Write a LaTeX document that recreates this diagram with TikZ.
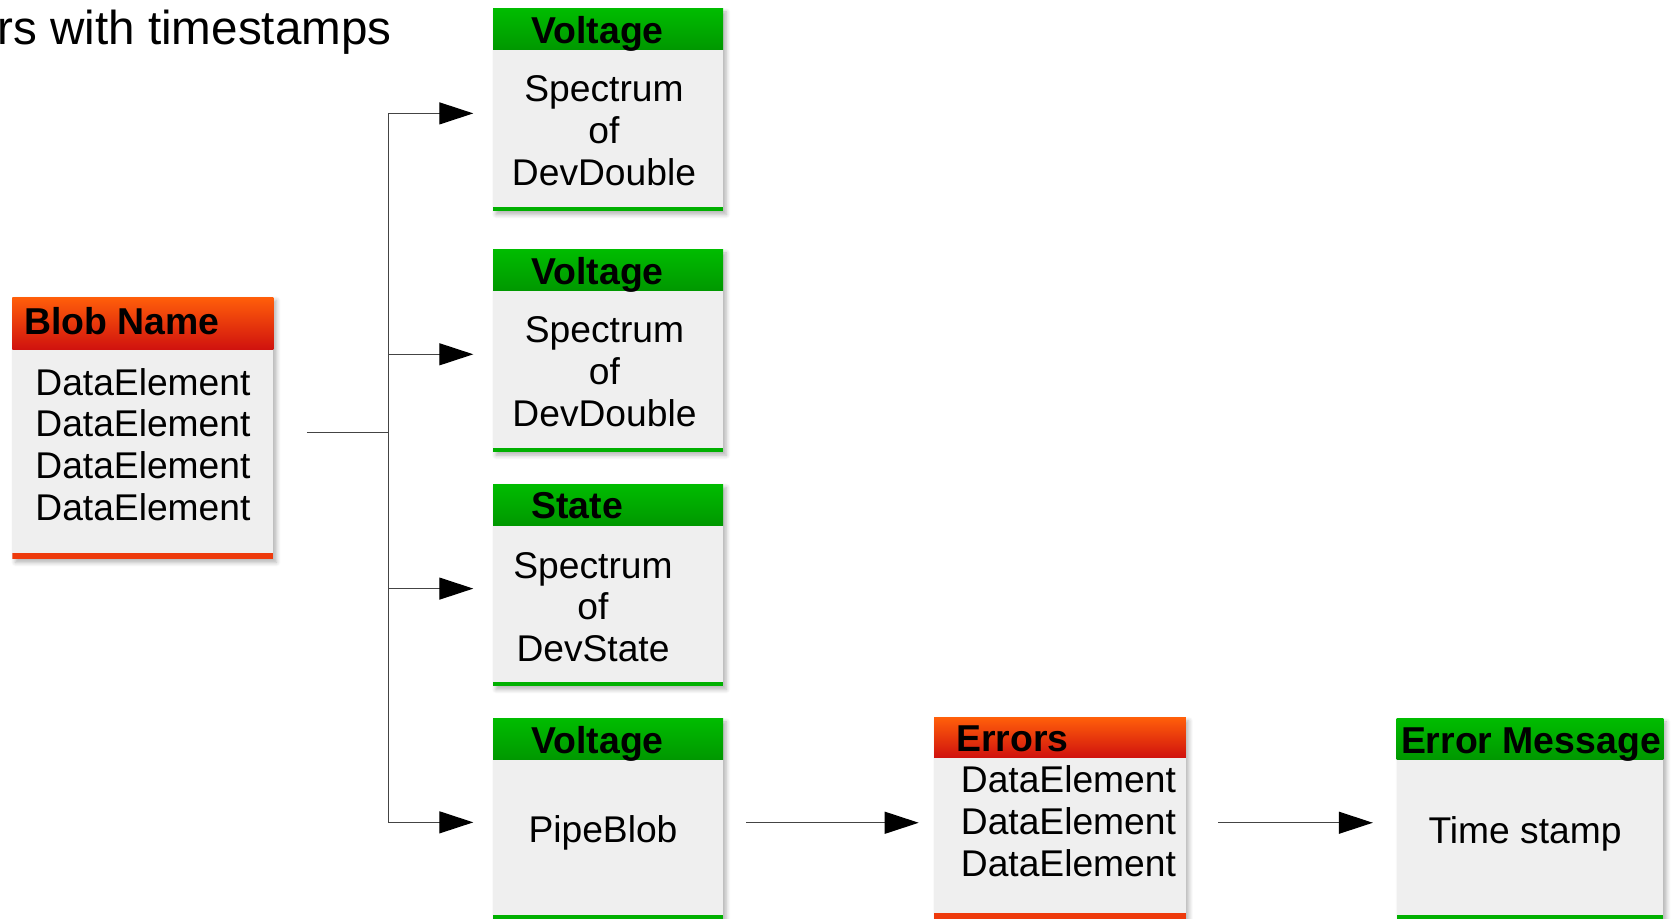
\documentclass[tikz,border=0pt]{standalone}
\usepackage{fontspec}
\setmainfont{Liberation Sans}
\usetikzlibrary{arrows.meta,shadows.blur}
\definecolor{boxgray}{HTML}{EFEFEF}
\definecolor{greentop}{HTML}{00BC00}
\definecolor{greenbot}{HTML}{009800}
\definecolor{greenband}{HTML}{00B000}
\definecolor{redtop}{HTML}{FF5E0A}
\definecolor{redbot}{HTML}{D0120E}
\definecolor{redband}{HTML}{EE3A0C}
\definecolor{wiregray}{HTML}{444444}

\begin{document}
\begin{tikzpicture}[x=0.5pt,y=-0.5pt]
  \tikzset{
    box/.style={rectangle, fill=boxgray, inner sep=0pt, anchor=north west,
      blur shadow={shadow xshift=1.5pt, shadow yshift=-1.5pt, shadow blur steps=6, shadow opacity=30}},
    gbox/.style={box, path picture={\fill[greenband] (path picture bounding box.south west)
      rectangle ([yshift=2pt]path picture bounding box.south east);}},
    rbox/.style={box, path picture={\fill[redband] (path picture bounding box.south west)
      rectangle ([yshift=3pt]path picture bounding box.south east);}},
    ghead/.style={rectangle, inner sep=0pt, anchor=north west, top color=greentop, bottom color=greenbot},
    rhead/.style={rectangle, inner sep=0pt, anchor=north west, top color=redtop, bottom color=redbot},
    headtext/.style={font=\bfseries\fontsize{18.7}{20}\selectfont, anchor=base west, inner sep=0pt},
    bodytext/.style={font=\fontsize{18.6}{20.9}\selectfont, inner sep=0pt},
    wire/.style={draw=wiregray, line width=0.6pt},
    flow/.style={wire, -{Triangle[length=17pt,width=11pt,color=black]}}
  }
  \useasboundingbox (0,0) rectangle (1679,919);

  % partial caption
  \node[font=\fontsize{23.8}{26}\selectfont, anchor=base west, inner sep=0pt] (caption) at (-3,44.3) {rs with timestamps};

  % blob
  \node[rbox, minimum width=130.5pt, minimum height=131pt] (blob) at (12,297) {};
  \node[rhead, minimum width=130.5pt, minimum height=26pt] (blobhead) at (blob.north west) {};
  \node[headtext] at (24,335) {Blob Name};
  \node[bodytext, align=left, anchor=west] (blobdata) at (35,444.5) {DataElement\\DataElement\\DataElement\\DataElement};

  % spectrum boxes
  \node[gbox, minimum width=115.1pt, minimum height=101.2pt] (v1) at (492.6,8.6) {};
  \node[ghead, minimum width=115.1pt, minimum height=20.25pt] (v1head) at (v1.north west) {};
  \node[headtext] at (531,43.3) {Voltage};
  \node[bodytext, align=center] (v1data) at (604,130.7) {Spectrum\\of\\DevDouble};

  \node[gbox, minimum width=115.1pt, minimum height=101.2pt] (v2) at (492.6,249.5) {};
  \node[ghead, minimum width=115.1pt, minimum height=20.25pt] (v2head) at (v2.north west) {};
  \node[headtext] at (531,284.2) {Voltage};
  \node[bodytext, align=center] (v2data) at (604.5,371.6) {Spectrum\\of\\DevDouble};

  \node[gbox, minimum width=115.1pt, minimum height=101pt] (st) at (492.6,484) {};
  \node[ghead, minimum width=115.1pt, minimum height=20.35pt] (sthead) at (st.north west) {};
  \node[headtext] at (531,518.7) {State};
  \node[bodytext, align=center] (stdata) at (593,607) {Spectrum\\of\\DevState};

  \node[gbox, minimum width=115.1pt, minimum height=100.25pt] (pipe) at (492.6,718.5) {};
  \node[ghead, minimum width=115.1pt, minimum height=20.25pt] (pipehead) at (pipe.north west) {};
  \node[headtext] at (531,753) {Voltage};
  \node[bodytext, anchor=base] (pipedata) at (603,842.7) {PipeBlob};

  % errors
  \node[rbox, minimum width=125.85pt, minimum height=100.8pt] (err) at (933.7,717.4) {};
  \node[rhead, minimum width=125.85pt, minimum height=19.8pt] (errhead) at (err.north west) {};
  \node[headtext] at (956,751.5) {Errors};
  \node[bodytext, align=left, anchor=west] (errdata) at (960.5,821.3) {DataElement\\DataElement\\DataElement};

  \node[gbox, minimum width=133.35pt, minimum height=100.25pt] (msg) at (1396.3,718.5) {};
  \node[ghead, minimum width=133.35pt, minimum height=20.25pt] (msghead) at (msg.north west) {};
  \node[headtext] at (1400.6,753) {Error Message};
  \node[bodytext, anchor=base] (msgdata) at (1525,843) {Time stamp};

  % connectors
  \coordinate (split) at (388.7,432.6);
  \draw[wire, shorten <=16.5pt] (blob.east |- split) -- (split);
  \foreach \t in {v1,v2,st,pipe}
    \draw[flow, shorten >=9.65pt] (split) |- ([yshift=-1.6pt]\t.west);
  \draw[flow, shorten <=11.25pt, shorten >=7.5pt] ([yshift=-1.8pt]pipe.east) -- ([yshift=-1.8pt]pipe.east -| err.west);
  \draw[flow, shorten <=16pt, shorten >=11.75pt] ([yshift=-1.8pt]pipe.east -| err.east) -- ([yshift=-1.8pt]pipe.east -| msg.west);
\end{tikzpicture}
\end{document}
